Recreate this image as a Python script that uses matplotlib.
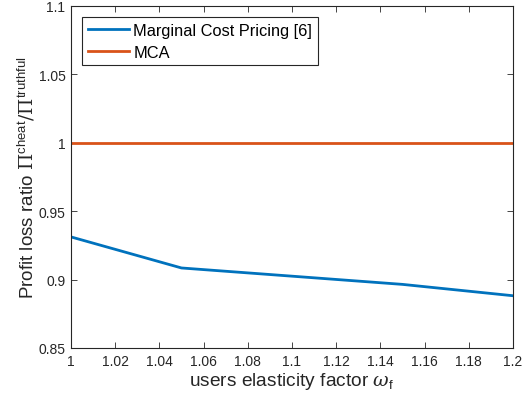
import matplotlib
matplotlib.use("Agg")
import matplotlib.pyplot as plt

plt.rcParams["font.family"] = ["Liberation Sans", "DejaVu Sans"]
plt.rcParams["mathtext.fontset"] = "custom"
plt.rcParams["mathtext.rm"] = "DejaVu Serif"
plt.rcParams["mathtext.it"] = "DejaVu Serif:italic"
plt.rcParams["mathtext.sf"] = "Liberation Sans"

# data
omega = [1.0, 1.05, 1.1, 1.15, 1.2]
mcp_ratio = [0.9312, 0.9085, 0.9025, 0.8965, 0.8882]
mca_ratio = [1.0, 1.0, 1.0, 1.0, 1.0]
x_ticks = [1, 1.02, 1.04, 1.06, 1.08, 1.1, 1.12, 1.14, 1.16, 1.18, 1.2]
x_labels = ["1", "1.02", "1.04", "1.06", "1.08", "1.1", "1.12", "1.14", "1.16", "1.18", "1.2"]
y_ticks = [0.85, 0.9, 0.95, 1.0, 1.05, 1.1]
y_labels = ["0.85", "0.9", "0.95", "1", "1.05", "1.1"]

AX_COLOR = "#262626"

fig = plt.figure(figsize=(5.27, 4.06), dpi=100)
ax = fig.add_axes([0.1347, 0.1404, 0.8387, 0.8424])

ax.plot(omega, mcp_ratio, color="#0072BD", lw=2.0, label="Marginal Cost Pricing [6]")
ax.plot(omega, mca_ratio, color="#D95319", lw=2.0, label="MCA")

ax.set_xlim(1, 1.2)
ax.set_ylim(0.85, 1.1)
ax.set_xticks(x_ticks)
ax.set_xticklabels(x_labels)
ax.set_yticks(y_ticks)
ax.set_yticklabels(y_labels)
ax.tick_params(direction="in", top=True, right=True, length=4, width=0.6,
               labelsize=10, colors=AX_COLOR, pad=4)
for s in ax.spines.values():
    s.set_color(AX_COLOR)
    s.set_linewidth(0.8)

ax.set_xlabel(r"users elasticity factor $\omega_{\mathsf{f}}$", fontsize=13.8, color=AX_COLOR, labelpad=2)
ax.set_ylabel(r"Profit loss ratio $\Pi^{\mathsf{cheat}}/\Pi^{\mathsf{truthful}}$", fontsize=13.5,
              color=AX_COLOR, labelpad=1)

leg = ax.legend(loc="upper left", fontsize=11.8, handlelength=2.5, handletextpad=0.25,
                borderaxespad=0.7, borderpad=0.35, labelspacing=0.4, fancybox=False,
                framealpha=1, edgecolor=AX_COLOR)
leg.get_frame().set_linewidth(0.8)

fig.savefig("out.png", dpi=100)
